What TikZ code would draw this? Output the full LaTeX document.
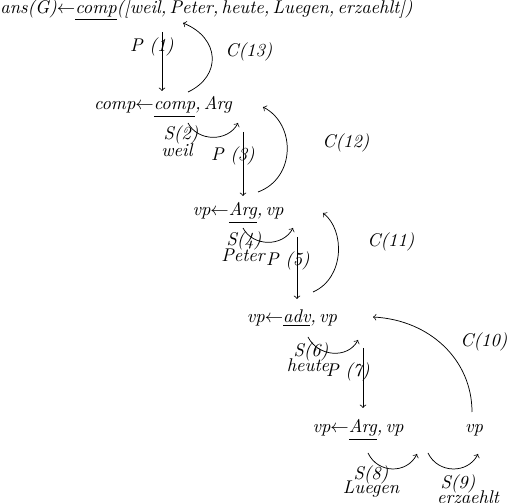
\documentclass[tikz,border=0pt]{standalone}
\usepackage{tikz}

\begin{document}
\begin{tikzpicture}[x=0.5435pt,y=-0.5435pt,
    lbl/.style={inner sep=0pt, font=\itshape},
    goal/.style={inner sep=0pt, font=\itshape},
    proc/.style={->},
    swing/.style={->}]
                    \useasboundingbox (0,0) rectangle (507,503);
                    % goals
                    \node[goal, anchor=west] (G1) at (0,10) {ans(G)$\leftarrow$\underline{comp}([weil,\,Peter,\,heute,\,Luegen,\,erzaehlt])};
                    \node[goal] (G2) at (163,107) {comp$\leftarrow$\underline{comp},\,Arg};
                    \node[goal] (G3) at (238,213) {vp$\leftarrow$\underline{Arg},\,vp};
                    \node[goal] (G4) at (292,318) {vp$\leftarrow$\underline{adv},\,vp};
                    \node[goal] (G5) at (358,430) {vp$\leftarrow$\underline{Arg},\,vp};
                    \node[goal] (G6) at (474,430) {vp};

                    % labels
                    \node[lbl] (P1) at (152,47) {P (1)};
                    \node[lbl] (P3) at (233,156) {P (3)};
                    \node[lbl] (P5) at (288,261) {P (5)};
                    \node[lbl] (P7) at (348,372) {P (7)};
                    \node[lbl] (C13) at (249,52) {C(13)};
                    \node[lbl] (C12) at (346,143) {C(12)};
                    \node[lbl] (C11) at (391,242) {C(11)};
                    \node[lbl] (C10) at (484,342) {C(10)};
                    \node[lbl] (S2) at (181,135) {S(2)};
                    \node[lbl] (W2) at (177,150) {weil};
                    \node[lbl] (S4) at (244,241) {S(4)};
                    \node[lbl] (W4) at (243,255) {Peter};
                    \node[lbl] (S6) at (311,352) {S(6)};
                    \node[lbl] (W6) at (308,365) {heute};
                    \node[lbl] (S8) at (371,475) {S(8)};
                    \node[lbl] (W8) at (371,489) {Luegen};
                    \node[lbl] (S9) at (458,484) {S(9)};
                    \node[lbl] (W9) at (468,497) {erzaehlt};

                    % ends of the arrows
                    \coordinate (p1a) at (162,32);  \coordinate (p1b) at (162,91);
                    \coordinate (p3a) at (243,132); \coordinate (p3b) at (243,196);
                    \coordinate (p5a) at (297,237); \coordinate (p5b) at (297,299);
                    \coordinate (p7a) at (363,348); \coordinate (p7b) at (363,408);
                    \coordinate (c13a) at (188,92);  \coordinate (c13b) at (183,23);
                    \coordinate (c12a) at (258,192); \coordinate (c12b) at (263,107);
                    \coordinate (c11a) at (313,292); \coordinate (c11b) at (323,213);
                    \coordinate (c10a) at (472,412); \coordinate (c10b) at (373,317);
                    \coordinate (s2a) at (188,123); \coordinate (s2b) at (238,123);
                    \coordinate (s4a) at (243,228); \coordinate (s4b) at (293,228);
                    \coordinate (s6a) at (308,337); \coordinate (s6b) at (358,340);
                    \coordinate (s8a) at (368,453); \coordinate (s8b) at (417,454);
                    \coordinate (s9a) at (428,453); \coordinate (s9b) at (478,454);

                    \draw[proc] (p1a) -- (p1b);
                    \draw[proc] (p3a) -- (p3b);
                    \draw[proc] (p5a) -- (p5b);
                    \draw[proc] (p7a) -- (p7b);

                    \draw[swing] (c13a) .. controls (222,76) and (220,38) .. (c13b);
                    \draw[swing] (c12a) .. controls (296,178) and (296,124) .. (c12b);
                    \draw[swing] (c11a) .. controls (345,278) and (345,230) .. (c11b);
                    \draw[swing] (c10a) .. controls (472,360) and (430,320) .. (c10b);

                    \draw[swing] (s2a) .. controls (198,142) and (228,142) .. (s2b);
                    \draw[swing] (s4a) .. controls (253,247) and (283,247) .. (s4b);
                    \draw[swing] (s6a) .. controls (318,357) and (348,359) .. (s6b);
                    \draw[swing] (s8a) .. controls (378,474) and (407,474) .. (s8b);
                    \draw[swing] (s9a) .. controls (438,474) and (468,474) .. (s9b);
                \end{tikzpicture}
\end{document}
